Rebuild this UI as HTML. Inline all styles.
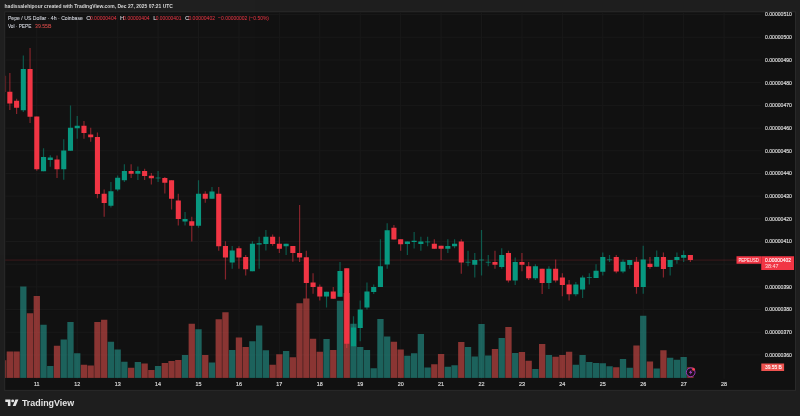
<!DOCTYPE html>
<html><head><meta charset="utf-8"><title>PEPEUSD</title>
<style>html,body{margin:0;padding:0;background:#1f1f1f;}body{width:800px;height:416px;overflow:hidden;}svg{display:block;will-change:transform;opacity:0.999;font-family:"Liberation Sans",sans-serif;}text{font-family:"Liberation Sans",sans-serif;}</style>
</head><body>
<svg width="800" height="416" viewBox="0 0 800 416">
<rect x="0" y="0" width="800" height="416" fill="#1f1f1f"/>
<rect x="4.2" y="11.3" width="791.8" height="379.59999999999997" fill="#2a2a2a"/>
<rect x="5.2" y="12.3" width="789.8" height="377.59999999999997" fill="#121212"/>
<defs><clipPath id="cp"><rect x="5.2" y="12.3" width="789.8" height="377.59999999999997"/></clipPath></defs>
<g clip-path="url(#cp)">
<rect x="4.7" y="354.45" width="756.3" height="1" fill="#1a1a1a"/>
<rect x="4.7" y="331.76" width="756.3" height="1" fill="#1a1a1a"/>
<rect x="4.7" y="309.07" width="756.3" height="1" fill="#1a1a1a"/>
<rect x="4.7" y="286.38" width="756.3" height="1" fill="#1a1a1a"/>
<rect x="4.7" y="263.69" width="756.3" height="1" fill="#1a1a1a"/>
<rect x="4.7" y="241.00" width="756.3" height="1" fill="#1a1a1a"/>
<rect x="4.7" y="218.31" width="756.3" height="1" fill="#1a1a1a"/>
<rect x="4.7" y="195.62" width="756.3" height="1" fill="#1a1a1a"/>
<rect x="4.7" y="172.93" width="756.3" height="1" fill="#1a1a1a"/>
<rect x="4.7" y="150.24" width="756.3" height="1" fill="#1a1a1a"/>
<rect x="4.7" y="127.55" width="756.3" height="1" fill="#1a1a1a"/>
<rect x="4.7" y="104.86" width="756.3" height="1" fill="#1a1a1a"/>
<rect x="4.7" y="82.17" width="756.3" height="1" fill="#1a1a1a"/>
<rect x="4.7" y="59.48" width="756.3" height="1" fill="#1a1a1a"/>
<rect x="4.7" y="36.79" width="756.3" height="1" fill="#1a1a1a"/>
<rect x="4.7" y="14.10" width="756.3" height="1" fill="#1a1a1a"/>
<rect x="36.30" y="11.8" width="1" height="367.09999999999997" fill="#1a1a1a"/>
<rect x="76.73" y="11.8" width="1" height="367.09999999999997" fill="#1a1a1a"/>
<rect x="117.16" y="11.8" width="1" height="367.09999999999997" fill="#1a1a1a"/>
<rect x="157.58" y="11.8" width="1" height="367.09999999999997" fill="#1a1a1a"/>
<rect x="198.01" y="11.8" width="1" height="367.09999999999997" fill="#1a1a1a"/>
<rect x="238.44" y="11.8" width="1" height="367.09999999999997" fill="#1a1a1a"/>
<rect x="278.87" y="11.8" width="1" height="367.09999999999997" fill="#1a1a1a"/>
<rect x="319.30" y="11.8" width="1" height="367.09999999999997" fill="#1a1a1a"/>
<rect x="359.72" y="11.8" width="1" height="367.09999999999997" fill="#1a1a1a"/>
<rect x="400.15" y="11.8" width="1" height="367.09999999999997" fill="#1a1a1a"/>
<rect x="440.58" y="11.8" width="1" height="367.09999999999997" fill="#1a1a1a"/>
<rect x="481.01" y="11.8" width="1" height="367.09999999999997" fill="#1a1a1a"/>
<rect x="521.44" y="11.8" width="1" height="367.09999999999997" fill="#1a1a1a"/>
<rect x="561.86" y="11.8" width="1" height="367.09999999999997" fill="#1a1a1a"/>
<rect x="602.29" y="11.8" width="1" height="367.09999999999997" fill="#1a1a1a"/>
<rect x="642.72" y="11.8" width="1" height="367.09999999999997" fill="#1a1a1a"/>
<rect x="683.15" y="11.8" width="1" height="367.09999999999997" fill="#1a1a1a"/>
<rect x="723.58" y="11.8" width="1" height="367.09999999999997" fill="#1a1a1a"/>
<rect x="-0.04" y="360.25" width="6.3" height="17.65" fill="#ef5350" fill-opacity="0.55"/>
<rect x="6.70" y="351.50" width="6.3" height="26.40" fill="#ef5350" fill-opacity="0.55"/>
<rect x="13.44" y="351.50" width="6.3" height="26.40" fill="#ef5350" fill-opacity="0.55"/>
<rect x="20.17" y="286.50" width="6.3" height="91.40" fill="#26a69a" fill-opacity="0.55"/>
<rect x="26.91" y="313.25" width="6.3" height="64.65" fill="#ef5350" fill-opacity="0.55"/>
<rect x="33.65" y="296.00" width="6.3" height="81.90" fill="#ef5350" fill-opacity="0.55"/>
<rect x="40.39" y="324.75" width="6.3" height="53.15" fill="#26a69a" fill-opacity="0.55"/>
<rect x="47.13" y="366.00" width="6.3" height="11.90" fill="#26a69a" fill-opacity="0.55"/>
<rect x="53.86" y="345.75" width="6.3" height="32.15" fill="#ef5350" fill-opacity="0.55"/>
<rect x="60.60" y="339.50" width="6.3" height="38.40" fill="#26a69a" fill-opacity="0.55"/>
<rect x="67.34" y="322.00" width="6.3" height="55.90" fill="#26a69a" fill-opacity="0.55"/>
<rect x="74.08" y="353.25" width="6.3" height="24.65" fill="#26a69a" fill-opacity="0.55"/>
<rect x="80.82" y="364.75" width="6.3" height="13.15" fill="#ef5350" fill-opacity="0.55"/>
<rect x="87.55" y="365.50" width="6.3" height="12.40" fill="#ef5350" fill-opacity="0.55"/>
<rect x="94.29" y="322.00" width="6.3" height="55.90" fill="#ef5350" fill-opacity="0.55"/>
<rect x="101.03" y="319.75" width="6.3" height="58.15" fill="#ef5350" fill-opacity="0.55"/>
<rect x="107.77" y="341.75" width="6.3" height="36.15" fill="#26a69a" fill-opacity="0.55"/>
<rect x="114.51" y="349.50" width="6.3" height="28.40" fill="#26a69a" fill-opacity="0.55"/>
<rect x="121.24" y="361.75" width="6.3" height="16.15" fill="#26a69a" fill-opacity="0.55"/>
<rect x="127.98" y="367.75" width="6.3" height="10.15" fill="#ef5350" fill-opacity="0.55"/>
<rect x="134.72" y="362.00" width="6.3" height="15.90" fill="#26a69a" fill-opacity="0.55"/>
<rect x="141.46" y="363.50" width="6.3" height="14.40" fill="#ef5350" fill-opacity="0.55"/>
<rect x="148.20" y="370.00" width="6.3" height="7.90" fill="#ef5350" fill-opacity="0.55"/>
<rect x="154.93" y="366.00" width="6.3" height="11.90" fill="#26a69a" fill-opacity="0.55"/>
<rect x="161.67" y="363.00" width="6.3" height="14.90" fill="#ef5350" fill-opacity="0.55"/>
<rect x="168.41" y="361.00" width="6.3" height="16.90" fill="#ef5350" fill-opacity="0.55"/>
<rect x="175.15" y="360.00" width="6.3" height="17.90" fill="#ef5350" fill-opacity="0.55"/>
<rect x="181.89" y="355.00" width="6.3" height="22.90" fill="#26a69a" fill-opacity="0.55"/>
<rect x="188.62" y="323.75" width="6.3" height="54.15" fill="#ef5350" fill-opacity="0.55"/>
<rect x="195.36" y="329.25" width="6.3" height="48.65" fill="#26a69a" fill-opacity="0.55"/>
<rect x="202.10" y="355.00" width="6.3" height="22.90" fill="#ef5350" fill-opacity="0.55"/>
<rect x="208.84" y="362.50" width="6.3" height="15.40" fill="#26a69a" fill-opacity="0.55"/>
<rect x="215.58" y="319.25" width="6.3" height="58.65" fill="#ef5350" fill-opacity="0.55"/>
<rect x="222.31" y="312.25" width="6.3" height="65.65" fill="#ef5350" fill-opacity="0.55"/>
<rect x="229.05" y="350.00" width="6.3" height="27.90" fill="#26a69a" fill-opacity="0.55"/>
<rect x="235.79" y="337.50" width="6.3" height="40.40" fill="#ef5350" fill-opacity="0.55"/>
<rect x="242.53" y="347.00" width="6.3" height="30.90" fill="#ef5350" fill-opacity="0.55"/>
<rect x="249.27" y="341.25" width="6.3" height="36.65" fill="#26a69a" fill-opacity="0.55"/>
<rect x="256.00" y="325.50" width="6.3" height="52.40" fill="#26a69a" fill-opacity="0.55"/>
<rect x="262.74" y="350.25" width="6.3" height="27.65" fill="#26a69a" fill-opacity="0.55"/>
<rect x="269.48" y="364.75" width="6.3" height="13.15" fill="#ef5350" fill-opacity="0.55"/>
<rect x="276.22" y="354.25" width="6.3" height="23.65" fill="#ef5350" fill-opacity="0.55"/>
<rect x="282.96" y="351.00" width="6.3" height="26.90" fill="#26a69a" fill-opacity="0.55"/>
<rect x="289.69" y="357.25" width="6.3" height="20.65" fill="#ef5350" fill-opacity="0.55"/>
<rect x="296.43" y="303.25" width="6.3" height="74.65" fill="#ef5350" fill-opacity="0.55"/>
<rect x="303.17" y="298.50" width="6.3" height="79.40" fill="#ef5350" fill-opacity="0.55"/>
<rect x="309.91" y="338.75" width="6.3" height="39.15" fill="#ef5350" fill-opacity="0.55"/>
<rect x="316.65" y="351.75" width="6.3" height="26.15" fill="#ef5350" fill-opacity="0.55"/>
<rect x="323.38" y="339.00" width="6.3" height="38.90" fill="#26a69a" fill-opacity="0.55"/>
<rect x="330.12" y="350.00" width="6.3" height="27.90" fill="#ef5350" fill-opacity="0.55"/>
<rect x="336.86" y="300.75" width="6.3" height="77.15" fill="#26a69a" fill-opacity="0.55"/>
<rect x="343.60" y="293.00" width="6.3" height="84.90" fill="#ef5350" fill-opacity="0.55"/>
<rect x="350.34" y="323.75" width="6.3" height="54.15" fill="#26a69a" fill-opacity="0.55"/>
<rect x="357.07" y="347.00" width="6.3" height="30.90" fill="#26a69a" fill-opacity="0.55"/>
<rect x="363.81" y="350.00" width="6.3" height="27.90" fill="#26a69a" fill-opacity="0.55"/>
<rect x="370.55" y="368.25" width="6.3" height="9.65" fill="#26a69a" fill-opacity="0.55"/>
<rect x="377.29" y="319.00" width="6.3" height="58.90" fill="#26a69a" fill-opacity="0.55"/>
<rect x="384.03" y="336.50" width="6.3" height="41.40" fill="#26a69a" fill-opacity="0.55"/>
<rect x="390.76" y="341.75" width="6.3" height="36.15" fill="#ef5350" fill-opacity="0.55"/>
<rect x="397.50" y="349.50" width="6.3" height="28.40" fill="#ef5350" fill-opacity="0.55"/>
<rect x="404.24" y="355.75" width="6.3" height="22.15" fill="#26a69a" fill-opacity="0.55"/>
<rect x="410.98" y="353.25" width="6.3" height="24.65" fill="#26a69a" fill-opacity="0.55"/>
<rect x="417.72" y="334.00" width="6.3" height="43.90" fill="#26a69a" fill-opacity="0.55"/>
<rect x="424.45" y="367.50" width="6.3" height="10.40" fill="#26a69a" fill-opacity="0.55"/>
<rect x="431.19" y="364.25" width="6.3" height="13.65" fill="#ef5350" fill-opacity="0.55"/>
<rect x="437.93" y="354.00" width="6.3" height="23.90" fill="#ef5350" fill-opacity="0.55"/>
<rect x="444.67" y="366.75" width="6.3" height="11.15" fill="#26a69a" fill-opacity="0.55"/>
<rect x="451.41" y="365.25" width="6.3" height="12.65" fill="#26a69a" fill-opacity="0.55"/>
<rect x="458.14" y="342.00" width="6.3" height="35.90" fill="#ef5350" fill-opacity="0.55"/>
<rect x="464.88" y="347.00" width="6.3" height="30.90" fill="#26a69a" fill-opacity="0.55"/>
<rect x="471.62" y="356.50" width="6.3" height="21.40" fill="#26a69a" fill-opacity="0.55"/>
<rect x="478.36" y="324.00" width="6.3" height="53.90" fill="#26a69a" fill-opacity="0.55"/>
<rect x="485.10" y="355.50" width="6.3" height="22.40" fill="#26a69a" fill-opacity="0.55"/>
<rect x="491.83" y="349.00" width="6.3" height="28.90" fill="#ef5350" fill-opacity="0.55"/>
<rect x="498.57" y="338.00" width="6.3" height="39.90" fill="#26a69a" fill-opacity="0.55"/>
<rect x="505.31" y="327.00" width="6.3" height="50.90" fill="#ef5350" fill-opacity="0.55"/>
<rect x="512.05" y="353.00" width="6.3" height="24.90" fill="#26a69a" fill-opacity="0.55"/>
<rect x="518.79" y="352.00" width="6.3" height="25.90" fill="#ef5350" fill-opacity="0.55"/>
<rect x="525.52" y="360.75" width="6.3" height="17.15" fill="#ef5350" fill-opacity="0.55"/>
<rect x="532.26" y="369.00" width="6.3" height="8.90" fill="#26a69a" fill-opacity="0.55"/>
<rect x="539.00" y="344.00" width="6.3" height="33.90" fill="#ef5350" fill-opacity="0.55"/>
<rect x="545.74" y="355.00" width="6.3" height="22.90" fill="#26a69a" fill-opacity="0.55"/>
<rect x="552.48" y="356.75" width="6.3" height="21.15" fill="#ef5350" fill-opacity="0.55"/>
<rect x="559.21" y="355.00" width="6.3" height="22.90" fill="#ef5350" fill-opacity="0.55"/>
<rect x="565.95" y="351.75" width="6.3" height="26.15" fill="#ef5350" fill-opacity="0.55"/>
<rect x="572.69" y="364.75" width="6.3" height="13.15" fill="#26a69a" fill-opacity="0.55"/>
<rect x="579.43" y="355.00" width="6.3" height="22.90" fill="#26a69a" fill-opacity="0.55"/>
<rect x="586.17" y="362.00" width="6.3" height="15.90" fill="#26a69a" fill-opacity="0.55"/>
<rect x="592.90" y="363.00" width="6.3" height="14.90" fill="#26a69a" fill-opacity="0.55"/>
<rect x="599.64" y="363.25" width="6.3" height="14.65" fill="#26a69a" fill-opacity="0.55"/>
<rect x="606.38" y="366.25" width="6.3" height="11.65" fill="#26a69a" fill-opacity="0.55"/>
<rect x="613.12" y="367.25" width="6.3" height="10.65" fill="#ef5350" fill-opacity="0.55"/>
<rect x="619.86" y="359.00" width="6.3" height="18.90" fill="#26a69a" fill-opacity="0.55"/>
<rect x="626.59" y="367.75" width="6.3" height="10.15" fill="#26a69a" fill-opacity="0.55"/>
<rect x="633.33" y="345.50" width="6.3" height="32.40" fill="#ef5350" fill-opacity="0.55"/>
<rect x="640.07" y="315.75" width="6.3" height="62.15" fill="#26a69a" fill-opacity="0.55"/>
<rect x="646.81" y="361.50" width="6.3" height="16.40" fill="#ef5350" fill-opacity="0.55"/>
<rect x="653.55" y="368.50" width="6.3" height="9.40" fill="#26a69a" fill-opacity="0.55"/>
<rect x="660.28" y="350.25" width="6.3" height="27.65" fill="#ef5350" fill-opacity="0.55"/>
<rect x="667.02" y="357.75" width="6.3" height="20.15" fill="#26a69a" fill-opacity="0.55"/>
<rect x="673.76" y="359.75" width="6.3" height="18.15" fill="#26a69a" fill-opacity="0.55"/>
<rect x="680.50" y="357.00" width="6.3" height="20.90" fill="#26a69a" fill-opacity="0.55"/>
<rect x="687.24" y="367.20" width="6.3" height="10.70" fill="#ef5350" fill-opacity="0.55"/>
<line x1="4.7" y1="260.05" x2="737" y2="260.05" stroke="#f23645" stroke-width="1" stroke-opacity="0.2"/>
<rect x="5.2" y="75.75" width="0.9" height="16.25" fill="#f23645" fill-opacity="0.45"/>
<rect x="9.25" y="73.00" width="1.2" height="37.00" fill="#f23645" fill-opacity="0.52"/>
<rect x="7.30" y="91.75" width="5.1" height="11.75" fill="#f23645" fill-opacity="1"/>
<rect x="15.99" y="98.75" width="1.2" height="15.25" fill="#f23645" fill-opacity="0.52"/>
<rect x="14.04" y="100.75" width="5.1" height="7.00" fill="#f23645" fill-opacity="1"/>
<rect x="22.72" y="55.50" width="1.2" height="56.50" fill="#089981" fill-opacity="0.52"/>
<rect x="20.77" y="69.00" width="5.1" height="41.25" fill="#089981" fill-opacity="1"/>
<rect x="29.46" y="48.00" width="1.2" height="75.00" fill="#f23645" fill-opacity="0.52"/>
<rect x="27.51" y="69.00" width="5.1" height="47.75" fill="#f23645" fill-opacity="1"/>
<rect x="36.20" y="116.50" width="1.2" height="54.25" fill="#f23645" fill-opacity="0.52"/>
<rect x="34.25" y="116.50" width="5.1" height="52.75" fill="#f23645" fill-opacity="1"/>
<rect x="42.94" y="148.25" width="1.2" height="23.00" fill="#089981" fill-opacity="0.52"/>
<rect x="40.99" y="157.00" width="5.1" height="14.25" fill="#089981" fill-opacity="1"/>
<rect x="49.68" y="155.25" width="1.2" height="11.50" fill="#089981" fill-opacity="0.52"/>
<rect x="47.73" y="157.50" width="5.1" height="2.50" fill="#089981" fill-opacity="1"/>
<rect x="56.41" y="155.50" width="1.2" height="22.50" fill="#f23645" fill-opacity="0.52"/>
<rect x="54.46" y="159.50" width="5.1" height="9.75" fill="#f23645" fill-opacity="1"/>
<rect x="63.15" y="139.25" width="1.2" height="40.50" fill="#089981" fill-opacity="0.52"/>
<rect x="61.20" y="150.50" width="5.1" height="18.75" fill="#089981" fill-opacity="1"/>
<rect x="69.89" y="105.50" width="1.2" height="45.25" fill="#089981" fill-opacity="0.52"/>
<rect x="67.94" y="127.75" width="5.1" height="23.00" fill="#089981" fill-opacity="1"/>
<rect x="76.63" y="116.00" width="1.2" height="22.75" fill="#089981" fill-opacity="0.52"/>
<rect x="74.68" y="125.75" width="5.1" height="2.50" fill="#089981" fill-opacity="1"/>
<rect x="83.37" y="121.00" width="1.2" height="17.75" fill="#f23645" fill-opacity="0.52"/>
<rect x="81.42" y="125.75" width="5.1" height="7.25" fill="#f23645" fill-opacity="1"/>
<rect x="90.10" y="127.75" width="1.2" height="14.00" fill="#f23645" fill-opacity="0.52"/>
<rect x="88.15" y="134.50" width="5.1" height="2.75" fill="#f23645" fill-opacity="1"/>
<rect x="96.84" y="132.50" width="1.2" height="65.75" fill="#f23645" fill-opacity="0.52"/>
<rect x="94.89" y="137.00" width="5.1" height="57.00" fill="#f23645" fill-opacity="1"/>
<rect x="103.58" y="189.50" width="1.2" height="27.25" fill="#f23645" fill-opacity="0.52"/>
<rect x="101.63" y="193.75" width="5.1" height="9.25" fill="#f23645" fill-opacity="1"/>
<rect x="110.32" y="182.00" width="1.2" height="25.50" fill="#089981" fill-opacity="0.52"/>
<rect x="108.37" y="191.25" width="5.1" height="14.50" fill="#089981" fill-opacity="1"/>
<rect x="117.06" y="175.50" width="1.2" height="15.75" fill="#089981" fill-opacity="0.52"/>
<rect x="115.11" y="177.75" width="5.1" height="11.75" fill="#089981" fill-opacity="1"/>
<rect x="123.79" y="164.25" width="1.2" height="17.75" fill="#089981" fill-opacity="0.52"/>
<rect x="121.84" y="171.00" width="5.1" height="9.25" fill="#089981" fill-opacity="1"/>
<rect x="130.53" y="164.25" width="1.2" height="13.75" fill="#f23645" fill-opacity="0.52"/>
<rect x="128.58" y="171.00" width="5.1" height="2.75" fill="#f23645" fill-opacity="1"/>
<rect x="137.27" y="166.50" width="1.2" height="13.50" fill="#089981" fill-opacity="0.52"/>
<rect x="135.32" y="171.00" width="5.1" height="2.75" fill="#089981" fill-opacity="1"/>
<rect x="144.01" y="168.75" width="1.2" height="11.25" fill="#f23645" fill-opacity="0.52"/>
<rect x="142.06" y="171.00" width="5.1" height="5.00" fill="#f23645" fill-opacity="1"/>
<rect x="150.75" y="173.00" width="1.2" height="11.50" fill="#f23645" fill-opacity="0.52"/>
<rect x="148.80" y="175.75" width="5.1" height="2.50" fill="#f23645" fill-opacity="1"/>
<rect x="157.48" y="171.00" width="1.2" height="11.00" fill="#089981" fill-opacity="0.52"/>
<rect x="155.53" y="177.50" width="5.1" height="1.00" fill="#089981" fill-opacity="0.65"/>
<rect x="164.22" y="177.00" width="1.2" height="16.50" fill="#f23645" fill-opacity="0.52"/>
<rect x="162.27" y="178.00" width="5.1" height="4.75" fill="#f23645" fill-opacity="1"/>
<rect x="170.96" y="180.25" width="1.2" height="29.25" fill="#f23645" fill-opacity="0.52"/>
<rect x="169.01" y="180.25" width="5.1" height="18.50" fill="#f23645" fill-opacity="1"/>
<rect x="177.70" y="193.75" width="1.2" height="31.75" fill="#f23645" fill-opacity="0.52"/>
<rect x="175.75" y="200.50" width="5.1" height="18.50" fill="#f23645" fill-opacity="1"/>
<rect x="184.44" y="212.00" width="1.2" height="13.50" fill="#089981" fill-opacity="0.52"/>
<rect x="182.49" y="219.00" width="5.1" height="2.50" fill="#089981" fill-opacity="1"/>
<rect x="191.17" y="216.75" width="1.2" height="24.75" fill="#f23645" fill-opacity="0.52"/>
<rect x="189.22" y="221.25" width="5.1" height="4.50" fill="#f23645" fill-opacity="1"/>
<rect x="197.91" y="180.25" width="1.2" height="47.50" fill="#089981" fill-opacity="0.52"/>
<rect x="195.96" y="193.75" width="5.1" height="32.00" fill="#089981" fill-opacity="1"/>
<rect x="204.65" y="191.25" width="1.2" height="11.50" fill="#f23645" fill-opacity="0.52"/>
<rect x="202.70" y="193.75" width="5.1" height="5.00" fill="#f23645" fill-opacity="1"/>
<rect x="211.39" y="187.00" width="1.2" height="11.75" fill="#089981" fill-opacity="0.52"/>
<rect x="209.44" y="191.50" width="5.1" height="7.25" fill="#089981" fill-opacity="1"/>
<rect x="218.13" y="187.00" width="1.2" height="63.75" fill="#f23645" fill-opacity="0.52"/>
<rect x="216.18" y="193.75" width="5.1" height="52.50" fill="#f23645" fill-opacity="1"/>
<rect x="224.86" y="241.25" width="1.2" height="38.25" fill="#f23645" fill-opacity="0.52"/>
<rect x="222.91" y="246.00" width="5.1" height="11.50" fill="#f23645" fill-opacity="1"/>
<rect x="231.60" y="246.00" width="1.2" height="22.75" fill="#089981" fill-opacity="0.52"/>
<rect x="229.65" y="250.50" width="5.1" height="12.00" fill="#089981" fill-opacity="1"/>
<rect x="238.34" y="246.25" width="1.2" height="22.50" fill="#f23645" fill-opacity="0.52"/>
<rect x="236.39" y="248.25" width="5.1" height="9.25" fill="#f23645" fill-opacity="1"/>
<rect x="245.08" y="255.00" width="1.2" height="20.50" fill="#f23645" fill-opacity="0.52"/>
<rect x="243.13" y="257.00" width="5.1" height="12.25" fill="#f23645" fill-opacity="1"/>
<rect x="251.82" y="241.25" width="1.2" height="30.00" fill="#089981" fill-opacity="0.52"/>
<rect x="249.87" y="243.75" width="5.1" height="27.50" fill="#089981" fill-opacity="1"/>
<rect x="258.55" y="236.75" width="1.2" height="32.00" fill="#089981" fill-opacity="0.52"/>
<rect x="256.60" y="243.25" width="5.1" height="1.25" fill="#089981" fill-opacity="1"/>
<rect x="265.29" y="230.00" width="1.2" height="20.50" fill="#089981" fill-opacity="0.52"/>
<rect x="263.34" y="236.75" width="5.1" height="7.25" fill="#089981" fill-opacity="1"/>
<rect x="272.03" y="234.50" width="1.2" height="11.25" fill="#f23645" fill-opacity="0.52"/>
<rect x="270.08" y="236.75" width="5.1" height="7.25" fill="#f23645" fill-opacity="1"/>
<rect x="278.77" y="236.75" width="1.2" height="16.25" fill="#f23645" fill-opacity="0.52"/>
<rect x="276.82" y="243.75" width="5.1" height="5.00" fill="#f23645" fill-opacity="1"/>
<rect x="285.51" y="243.75" width="1.2" height="11.25" fill="#089981" fill-opacity="0.52"/>
<rect x="283.56" y="243.75" width="5.1" height="2.50" fill="#089981" fill-opacity="1"/>
<rect x="292.24" y="246.00" width="1.2" height="15.75" fill="#f23645" fill-opacity="0.52"/>
<rect x="290.29" y="246.00" width="5.1" height="7.00" fill="#f23645" fill-opacity="1"/>
<rect x="298.98" y="205.00" width="1.2" height="57.00" fill="#f23645" fill-opacity="0.52"/>
<rect x="297.03" y="253.00" width="5.1" height="4.50" fill="#f23645" fill-opacity="1"/>
<rect x="305.72" y="250.75" width="1.2" height="48.00" fill="#f23645" fill-opacity="0.52"/>
<rect x="303.77" y="257.25" width="5.1" height="25.75" fill="#f23645" fill-opacity="1"/>
<rect x="312.46" y="273.25" width="1.2" height="20.50" fill="#f23645" fill-opacity="0.52"/>
<rect x="310.51" y="282.50" width="5.1" height="4.50" fill="#f23645" fill-opacity="1"/>
<rect x="319.20" y="284.50" width="1.2" height="16.00" fill="#f23645" fill-opacity="0.52"/>
<rect x="317.25" y="286.75" width="5.1" height="9.75" fill="#f23645" fill-opacity="1"/>
<rect x="325.93" y="291.75" width="1.2" height="15.75" fill="#089981" fill-opacity="0.52"/>
<rect x="323.98" y="291.75" width="5.1" height="4.75" fill="#089981" fill-opacity="1"/>
<rect x="332.67" y="287.00" width="1.2" height="11.75" fill="#f23645" fill-opacity="0.52"/>
<rect x="330.72" y="291.50" width="5.1" height="7.25" fill="#f23645" fill-opacity="1"/>
<rect x="339.41" y="262.00" width="1.2" height="34.75" fill="#089981" fill-opacity="0.52"/>
<rect x="337.46" y="271.00" width="5.1" height="25.75" fill="#089981" fill-opacity="1"/>
<rect x="346.15" y="268.25" width="1.2" height="79.75" fill="#f23645" fill-opacity="0.52"/>
<rect x="344.20" y="268.25" width="5.1" height="75.50" fill="#f23645" fill-opacity="1"/>
<rect x="352.89" y="316.25" width="1.2" height="30.00" fill="#089981" fill-opacity="0.52"/>
<rect x="350.94" y="327.50" width="5.1" height="18.75" fill="#089981" fill-opacity="1"/>
<rect x="359.62" y="300.50" width="1.2" height="40.75" fill="#089981" fill-opacity="0.52"/>
<rect x="357.67" y="309.50" width="5.1" height="18.50" fill="#089981" fill-opacity="1"/>
<rect x="366.36" y="282.50" width="1.2" height="27.00" fill="#089981" fill-opacity="0.52"/>
<rect x="364.41" y="291.50" width="5.1" height="16.00" fill="#089981" fill-opacity="1"/>
<rect x="373.10" y="284.50" width="1.2" height="9.50" fill="#089981" fill-opacity="0.52"/>
<rect x="371.15" y="287.00" width="5.1" height="5.00" fill="#089981" fill-opacity="1"/>
<rect x="379.84" y="239.25" width="1.2" height="47.75" fill="#089981" fill-opacity="0.52"/>
<rect x="377.89" y="266.25" width="5.1" height="20.75" fill="#089981" fill-opacity="1"/>
<rect x="386.58" y="223.25" width="1.2" height="45.50" fill="#089981" fill-opacity="0.52"/>
<rect x="384.63" y="230.25" width="5.1" height="34.25" fill="#089981" fill-opacity="1"/>
<rect x="393.31" y="225.00" width="1.2" height="14.50" fill="#f23645" fill-opacity="0.52"/>
<rect x="391.36" y="227.75" width="5.1" height="11.75" fill="#f23645" fill-opacity="1"/>
<rect x="400.05" y="239.25" width="1.2" height="11.50" fill="#f23645" fill-opacity="0.52"/>
<rect x="398.10" y="239.25" width="5.1" height="5.00" fill="#f23645" fill-opacity="1"/>
<rect x="406.79" y="241.50" width="1.2" height="13.50" fill="#089981" fill-opacity="0.52"/>
<rect x="404.84" y="241.50" width="5.1" height="2.50" fill="#089981" fill-opacity="1"/>
<rect x="413.53" y="232.00" width="1.2" height="16.50" fill="#089981" fill-opacity="0.52"/>
<rect x="411.58" y="240.75" width="5.1" height="1.25" fill="#089981" fill-opacity="1"/>
<rect x="420.27" y="236.75" width="1.2" height="14.00" fill="#089981" fill-opacity="0.52"/>
<rect x="418.32" y="241.50" width="5.1" height="2.50" fill="#089981" fill-opacity="1"/>
<rect x="427.00" y="236.75" width="1.2" height="9.50" fill="#089981" fill-opacity="0.52"/>
<rect x="425.05" y="241.40" width="5.1" height="1.00" fill="#089981" fill-opacity="0.65"/>
<rect x="433.74" y="239.25" width="1.2" height="9.50" fill="#f23645" fill-opacity="0.52"/>
<rect x="431.79" y="243.75" width="5.1" height="5.00" fill="#f23645" fill-opacity="1"/>
<rect x="440.48" y="245.75" width="1.2" height="14.25" fill="#f23645" fill-opacity="0.52"/>
<rect x="438.53" y="245.75" width="5.1" height="3.00" fill="#f23645" fill-opacity="1"/>
<rect x="447.22" y="239.25" width="1.2" height="13.75" fill="#089981" fill-opacity="0.52"/>
<rect x="445.27" y="246.00" width="5.1" height="2.75" fill="#089981" fill-opacity="1"/>
<rect x="453.96" y="239.25" width="1.2" height="9.00" fill="#089981" fill-opacity="0.52"/>
<rect x="452.01" y="243.75" width="5.1" height="2.50" fill="#089981" fill-opacity="1"/>
<rect x="460.69" y="239.25" width="1.2" height="34.50" fill="#f23645" fill-opacity="0.52"/>
<rect x="458.74" y="241.50" width="5.1" height="21.00" fill="#f23645" fill-opacity="1"/>
<rect x="467.43" y="250.75" width="1.2" height="15.50" fill="#089981" fill-opacity="0.52"/>
<rect x="465.48" y="261.75" width="5.1" height="1.00" fill="#089981" fill-opacity="0.65"/>
<rect x="474.17" y="253.00" width="1.2" height="24.50" fill="#089981" fill-opacity="0.52"/>
<rect x="472.22" y="260.00" width="5.1" height="4.75" fill="#089981" fill-opacity="1"/>
<rect x="480.91" y="230.00" width="1.2" height="45.50" fill="#089981" fill-opacity="0.52"/>
<rect x="478.96" y="259.50" width="5.1" height="1.00" fill="#089981" fill-opacity="0.65"/>
<rect x="487.65" y="255.00" width="1.2" height="11.25" fill="#089981" fill-opacity="0.52"/>
<rect x="485.70" y="261.75" width="5.1" height="1.00" fill="#089981" fill-opacity="0.65"/>
<rect x="494.38" y="250.75" width="1.2" height="18.00" fill="#f23645" fill-opacity="0.52"/>
<rect x="492.43" y="262.00" width="5.1" height="2.75" fill="#f23645" fill-opacity="1"/>
<rect x="501.12" y="248.25" width="1.2" height="20.50" fill="#089981" fill-opacity="0.52"/>
<rect x="499.17" y="255.00" width="5.1" height="12.00" fill="#089981" fill-opacity="1"/>
<rect x="507.86" y="250.75" width="1.2" height="31.75" fill="#f23645" fill-opacity="0.52"/>
<rect x="505.91" y="253.00" width="5.1" height="27.50" fill="#f23645" fill-opacity="1"/>
<rect x="514.60" y="257.50" width="1.2" height="27.50" fill="#089981" fill-opacity="0.52"/>
<rect x="512.65" y="262.00" width="5.1" height="18.50" fill="#089981" fill-opacity="1"/>
<rect x="521.34" y="253.00" width="1.2" height="18.25" fill="#f23645" fill-opacity="0.52"/>
<rect x="519.39" y="262.00" width="5.1" height="2.75" fill="#f23645" fill-opacity="1"/>
<rect x="528.07" y="262.00" width="1.2" height="18.00" fill="#f23645" fill-opacity="0.52"/>
<rect x="526.12" y="266.25" width="5.1" height="12.00" fill="#f23645" fill-opacity="1"/>
<rect x="534.81" y="264.25" width="1.2" height="15.75" fill="#089981" fill-opacity="0.52"/>
<rect x="532.86" y="266.25" width="5.1" height="12.00" fill="#089981" fill-opacity="1"/>
<rect x="541.55" y="268.75" width="1.2" height="25.25" fill="#f23645" fill-opacity="0.52"/>
<rect x="539.60" y="268.75" width="5.1" height="14.25" fill="#f23645" fill-opacity="1"/>
<rect x="548.29" y="266.25" width="1.2" height="22.75" fill="#089981" fill-opacity="0.52"/>
<rect x="546.34" y="268.75" width="5.1" height="14.25" fill="#089981" fill-opacity="1"/>
<rect x="555.03" y="259.50" width="1.2" height="23.00" fill="#f23645" fill-opacity="0.52"/>
<rect x="553.08" y="268.75" width="5.1" height="11.75" fill="#f23645" fill-opacity="1"/>
<rect x="561.76" y="273.25" width="1.2" height="23.00" fill="#f23645" fill-opacity="0.52"/>
<rect x="559.81" y="277.50" width="5.1" height="7.50" fill="#f23645" fill-opacity="1"/>
<rect x="568.50" y="280.00" width="1.2" height="20.50" fill="#f23645" fill-opacity="0.52"/>
<rect x="566.55" y="284.50" width="5.1" height="9.75" fill="#f23645" fill-opacity="1"/>
<rect x="575.24" y="282.00" width="1.2" height="14.25" fill="#089981" fill-opacity="0.52"/>
<rect x="573.29" y="284.50" width="5.1" height="9.75" fill="#089981" fill-opacity="1"/>
<rect x="581.98" y="275.50" width="1.2" height="22.50" fill="#089981" fill-opacity="0.52"/>
<rect x="580.03" y="277.50" width="5.1" height="12.00" fill="#089981" fill-opacity="1"/>
<rect x="588.72" y="273.25" width="1.2" height="11.25" fill="#089981" fill-opacity="0.52"/>
<rect x="586.77" y="277.00" width="5.1" height="1.00" fill="#089981" fill-opacity="0.65"/>
<rect x="595.45" y="264.25" width="1.2" height="13.75" fill="#089981" fill-opacity="0.52"/>
<rect x="593.50" y="270.75" width="5.1" height="7.25" fill="#089981" fill-opacity="1"/>
<rect x="602.19" y="252.50" width="1.2" height="23.00" fill="#089981" fill-opacity="0.52"/>
<rect x="600.24" y="257.00" width="5.1" height="14.75" fill="#089981" fill-opacity="1"/>
<rect x="608.93" y="255.00" width="1.2" height="7.00" fill="#089981" fill-opacity="0.52"/>
<rect x="606.98" y="259.25" width="5.1" height="1.00" fill="#089981" fill-opacity="0.65"/>
<rect x="615.67" y="255.00" width="1.2" height="18.25" fill="#f23645" fill-opacity="0.52"/>
<rect x="613.72" y="257.00" width="5.1" height="14.50" fill="#f23645" fill-opacity="1"/>
<rect x="622.41" y="259.50" width="1.2" height="13.75" fill="#089981" fill-opacity="0.52"/>
<rect x="620.46" y="261.75" width="5.1" height="9.75" fill="#089981" fill-opacity="1"/>
<rect x="629.14" y="260.00" width="1.2" height="8.75" fill="#089981" fill-opacity="0.52"/>
<rect x="627.19" y="260.00" width="5.1" height="5.00" fill="#089981" fill-opacity="1"/>
<rect x="635.88" y="257.00" width="1.2" height="36.75" fill="#f23645" fill-opacity="0.52"/>
<rect x="633.93" y="261.75" width="5.1" height="25.25" fill="#f23645" fill-opacity="1"/>
<rect x="642.62" y="245.75" width="1.2" height="48.00" fill="#089981" fill-opacity="0.52"/>
<rect x="640.67" y="259.50" width="5.1" height="27.50" fill="#089981" fill-opacity="1"/>
<rect x="649.36" y="257.00" width="1.2" height="11.75" fill="#f23645" fill-opacity="0.52"/>
<rect x="647.41" y="263.75" width="5.1" height="3.25" fill="#f23645" fill-opacity="1"/>
<rect x="656.10" y="250.50" width="1.2" height="16.25" fill="#089981" fill-opacity="0.52"/>
<rect x="654.15" y="257.00" width="5.1" height="9.75" fill="#089981" fill-opacity="1"/>
<rect x="662.83" y="252.50" width="1.2" height="25.00" fill="#f23645" fill-opacity="0.52"/>
<rect x="660.88" y="257.00" width="5.1" height="12.00" fill="#f23645" fill-opacity="1"/>
<rect x="669.57" y="260.00" width="1.2" height="15.50" fill="#089981" fill-opacity="0.52"/>
<rect x="667.62" y="260.00" width="5.1" height="7.00" fill="#089981" fill-opacity="1"/>
<rect x="676.31" y="252.50" width="1.2" height="11.25" fill="#089981" fill-opacity="0.52"/>
<rect x="674.36" y="257.00" width="5.1" height="3.00" fill="#089981" fill-opacity="1"/>
<rect x="683.05" y="250.50" width="1.2" height="11.50" fill="#089981" fill-opacity="0.52"/>
<rect x="681.10" y="255.00" width="5.1" height="2.75" fill="#089981" fill-opacity="1"/>
<rect x="689.79" y="255.00" width="1.2" height="7.00" fill="#f23645" fill-opacity="0.52"/>
<rect x="687.84" y="255.00" width="5.1" height="5.00" fill="#f23645" fill-opacity="1"/>
</g>
<circle cx="690.7" cy="372.3" r="4.35" fill="#1a1018" stroke="#9c36b5" stroke-width="1"/>
<path d="M691.60 369.60 L688.80 372.85 L690.60 372.85 L689.80 375.00 L692.60 371.75 L690.80 371.75 Z" fill="#b044cc"/>
<circle cx="693.6" cy="369.4" r="1.45" fill="#ff4455"/>
<text x="765" y="356.80" font-size="5.4" fill="#dadada" stroke="#dadada" stroke-width="0.18" textLength="26.9" lengthAdjust="spacingAndGlyphs">0.00000360</text>
<text x="765" y="334.11" font-size="5.4" fill="#dadada" stroke="#dadada" stroke-width="0.18" textLength="26.9" lengthAdjust="spacingAndGlyphs">0.00000370</text>
<text x="765" y="311.42" font-size="5.4" fill="#dadada" stroke="#dadada" stroke-width="0.18" textLength="26.9" lengthAdjust="spacingAndGlyphs">0.00000380</text>
<text x="765" y="288.73" font-size="5.4" fill="#dadada" stroke="#dadada" stroke-width="0.18" textLength="26.9" lengthAdjust="spacingAndGlyphs">0.00000390</text>
<text x="765" y="266.04" font-size="5.4" fill="#dadada" stroke="#dadada" stroke-width="0.18" textLength="26.9" lengthAdjust="spacingAndGlyphs">0.00000400</text>
<text x="765" y="243.35" font-size="5.4" fill="#dadada" stroke="#dadada" stroke-width="0.18" textLength="26.9" lengthAdjust="spacingAndGlyphs">0.00000410</text>
<text x="765" y="220.66" font-size="5.4" fill="#dadada" stroke="#dadada" stroke-width="0.18" textLength="26.9" lengthAdjust="spacingAndGlyphs">0.00000420</text>
<text x="765" y="197.97" font-size="5.4" fill="#dadada" stroke="#dadada" stroke-width="0.18" textLength="26.9" lengthAdjust="spacingAndGlyphs">0.00000430</text>
<text x="765" y="175.28" font-size="5.4" fill="#dadada" stroke="#dadada" stroke-width="0.18" textLength="26.9" lengthAdjust="spacingAndGlyphs">0.00000440</text>
<text x="765" y="152.59" font-size="5.4" fill="#dadada" stroke="#dadada" stroke-width="0.18" textLength="26.9" lengthAdjust="spacingAndGlyphs">0.00000450</text>
<text x="765" y="129.90" font-size="5.4" fill="#dadada" stroke="#dadada" stroke-width="0.18" textLength="26.9" lengthAdjust="spacingAndGlyphs">0.00000460</text>
<text x="765" y="107.21" font-size="5.4" fill="#dadada" stroke="#dadada" stroke-width="0.18" textLength="26.9" lengthAdjust="spacingAndGlyphs">0.00000470</text>
<text x="765" y="84.52" font-size="5.4" fill="#dadada" stroke="#dadada" stroke-width="0.18" textLength="26.9" lengthAdjust="spacingAndGlyphs">0.00000480</text>
<text x="765" y="61.83" font-size="5.4" fill="#dadada" stroke="#dadada" stroke-width="0.18" textLength="26.9" lengthAdjust="spacingAndGlyphs">0.00000490</text>
<text x="765" y="39.14" font-size="5.4" fill="#dadada" stroke="#dadada" stroke-width="0.18" textLength="26.9" lengthAdjust="spacingAndGlyphs">0.00000500</text>
<text x="765" y="16.45" font-size="5.4" fill="#dadada" stroke="#dadada" stroke-width="0.18" textLength="26.9" lengthAdjust="spacingAndGlyphs">0.00000510</text>
<text x="36.80" y="385.55" font-size="5.4" fill="#dadada" stroke="#dadada" stroke-width="0.18" text-anchor="middle">11</text>
<text x="77.23" y="385.55" font-size="5.4" fill="#dadada" stroke="#dadada" stroke-width="0.18" text-anchor="middle">12</text>
<text x="117.66" y="385.55" font-size="5.4" fill="#dadada" stroke="#dadada" stroke-width="0.18" text-anchor="middle">13</text>
<text x="158.08" y="385.55" font-size="5.4" fill="#dadada" stroke="#dadada" stroke-width="0.18" text-anchor="middle">14</text>
<text x="198.51" y="385.55" font-size="5.4" fill="#dadada" stroke="#dadada" stroke-width="0.18" text-anchor="middle">15</text>
<text x="238.94" y="385.55" font-size="5.4" fill="#dadada" stroke="#dadada" stroke-width="0.18" text-anchor="middle">16</text>
<text x="279.37" y="385.55" font-size="5.4" fill="#dadada" stroke="#dadada" stroke-width="0.18" text-anchor="middle">17</text>
<text x="319.80" y="385.55" font-size="5.4" fill="#dadada" stroke="#dadada" stroke-width="0.18" text-anchor="middle">18</text>
<text x="360.22" y="385.55" font-size="5.4" fill="#dadada" stroke="#dadada" stroke-width="0.18" text-anchor="middle">19</text>
<text x="400.65" y="385.55" font-size="5.4" fill="#dadada" stroke="#dadada" stroke-width="0.18" text-anchor="middle">20</text>
<text x="441.08" y="385.55" font-size="5.4" fill="#dadada" stroke="#dadada" stroke-width="0.18" text-anchor="middle">21</text>
<text x="481.51" y="385.55" font-size="5.4" fill="#dadada" stroke="#dadada" stroke-width="0.18" text-anchor="middle">22</text>
<text x="521.94" y="385.55" font-size="5.4" fill="#dadada" stroke="#dadada" stroke-width="0.18" text-anchor="middle">23</text>
<text x="562.36" y="385.55" font-size="5.4" fill="#dadada" stroke="#dadada" stroke-width="0.18" text-anchor="middle">24</text>
<text x="602.79" y="385.55" font-size="5.4" fill="#dadada" stroke="#dadada" stroke-width="0.18" text-anchor="middle">25</text>
<text x="643.22" y="385.55" font-size="5.4" fill="#dadada" stroke="#dadada" stroke-width="0.18" text-anchor="middle">26</text>
<text x="683.65" y="385.55" font-size="5.4" fill="#dadada" stroke="#dadada" stroke-width="0.18" text-anchor="middle">27</text>
<text x="724.08" y="385.55" font-size="5.4" fill="#dadada" stroke="#dadada" stroke-width="0.18" text-anchor="middle">28</text>
<rect x="736.5" y="256.25" width="24.75" height="7.5" fill="#f23645"/>
<text x="738.4" y="261.8" font-size="4.9" fill="#ffffff" textLength="20.5" lengthAdjust="spacingAndGlyphs">PEPEUSD</text>
<rect x="761.25" y="256.25" width="32.75" height="13.75" fill="#f23645"/>
<text x="765" y="262" font-size="5.4" fill="#ffffff" stroke="#ffffff" stroke-width="0.12" textLength="26.0" lengthAdjust="spacingAndGlyphs">0.00000402</text>
<text x="765" y="268.1" font-size="5.4" fill="#ffffff" fill-opacity="0.85">38:47</text>
<rect x="761.3" y="363.5" width="22.8" height="7.5" fill="#ef5350"/>
<text x="764.9" y="369.1" font-size="5.3" fill="#ffffff" stroke="#ffffff" stroke-width="0.1" textLength="17.0" lengthAdjust="spacingAndGlyphs">39.55 B</text>
<text x="4.6" y="8.3" font-size="5.6" font-weight="bold" fill="#d8d8d8" textLength="168.3" lengthAdjust="spacingAndGlyphs">hadissalehipour created with TradingView.com, Dec 27, 2025 07:21 UTC</text>
<text x="7.9" y="20.35" font-size="6.1" fill="#d1d4dc" stroke="#d1d4dc" stroke-width="0.1" textLength="75" lengthAdjust="spacingAndGlyphs">Pepe / US Dollar · 4h · Coinbase</text>
<text x="86.3" y="20.35" font-size="6.1" fill="#d1d4dc" stroke="#d1d4dc" stroke-width="0.1">O</text>
<text x="89.9" y="20.35" font-size="6.1" fill="#f23645" textLength="26.60" lengthAdjust="spacingAndGlyphs">0.00000404</text>
<text x="120.0" y="20.35" font-size="6.1" fill="#d1d4dc" stroke="#d1d4dc" stroke-width="0.1">H</text>
<text x="123.3" y="20.35" font-size="6.1" fill="#f23645" textLength="26.30" lengthAdjust="spacingAndGlyphs">0.00000404</text>
<text x="153.2" y="20.35" font-size="6.1" fill="#d1d4dc" stroke="#d1d4dc" stroke-width="0.1">L</text>
<text x="155.7" y="20.35" font-size="6.1" fill="#f23645" textLength="25.80" lengthAdjust="spacingAndGlyphs">0.00000401</text>
<text x="185.0" y="20.35" font-size="6.1" fill="#d1d4dc" stroke="#d1d4dc" stroke-width="0.1">C</text>
<text x="188.4" y="20.35" font-size="6.1" fill="#f23645" textLength="26.60" lengthAdjust="spacingAndGlyphs">0.00000402</text>
<text x="218.1" y="20.35" font-size="6.1" fill="#f23645" textLength="50.9" lengthAdjust="spacingAndGlyphs">−0.00000002 (−0.50%)</text>
<text x="7.9" y="27.6" font-size="6.1" fill="#d1d4dc" stroke="#d1d4dc" stroke-width="0.1" textLength="23.4" lengthAdjust="spacingAndGlyphs">Vol · PEPE</text>
<text x="35.0" y="27.6" font-size="6.1" fill="#ef5350" textLength="16.5" lengthAdjust="spacingAndGlyphs">39.55B</text>
<g transform="translate(5.3,398.08) scale(0.369,0.356)" fill="#e6e6e6"><path d="M14 22H7V11H0V4h14v18zM28 22h-8l7.5-18h8L28 22z"/><circle cx="20" cy="8" r="4"/></g>
<text x="21.9" y="405.9" font-size="8.6" font-weight="bold" fill="#e6e6e6" textLength="52.2" lengthAdjust="spacingAndGlyphs">TradingView</text>
</svg>
</body></html>
